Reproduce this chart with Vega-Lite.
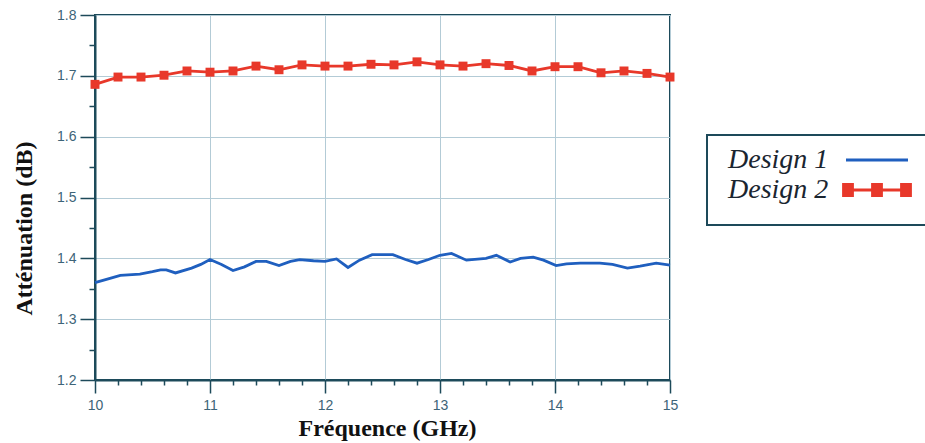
{
  "$schema": "https://vega.github.io/schema/vega-lite/v6.json",
  "autosize": {"type": "none"},
  "width": 575,
  "height": 365,
  "padding": {"left": 95, "top": 15, "right": 255, "bottom": 63},
  "background": "white",
  "config": {
    "view": {"stroke": "#1d4a5a", "strokeWidth": 2},
    "axis": {
      "domainColor": "#1d4a5a",
      "domainWidth": 2,
      "tickColor": "#1d4a5a",
      "tickWidth": 1.5,
      "gridColor": "#b3cbd6",
      "gridWidth": 1,
      "labelFont": "Liberation Sans",
      "labelFontSize": 14,
      "labelColor": "#3d6478",
      "titleFont": "Liberation Serif",
      "titleFontWeight": "bold",
      "titleFontSize": 24,
      "titleColor": "#111111"
    }
  },
  "data": {
    "values": [
      {"f": 10.0, "a": 1.360, "design": "Design 1"},
      {"f": 10.13, "a": 1.367, "design": "Design 1"},
      {"f": 10.22, "a": 1.372, "design": "Design 1"},
      {"f": 10.39, "a": 1.374, "design": "Design 1"},
      {"f": 10.5, "a": 1.378, "design": "Design 1"},
      {"f": 10.57, "a": 1.381, "design": "Design 1"},
      {"f": 10.62, "a": 1.381, "design": "Design 1"},
      {"f": 10.70, "a": 1.376, "design": "Design 1"},
      {"f": 10.84, "a": 1.384, "design": "Design 1"},
      {"f": 10.92, "a": 1.390, "design": "Design 1"},
      {"f": 11.0, "a": 1.398, "design": "Design 1"},
      {"f": 11.1, "a": 1.390, "design": "Design 1"},
      {"f": 11.2, "a": 1.380, "design": "Design 1"},
      {"f": 11.3, "a": 1.386, "design": "Design 1"},
      {"f": 11.4, "a": 1.395, "design": "Design 1"},
      {"f": 11.49, "a": 1.395, "design": "Design 1"},
      {"f": 11.6, "a": 1.388, "design": "Design 1"},
      {"f": 11.7, "a": 1.395, "design": "Design 1"},
      {"f": 11.78, "a": 1.398, "design": "Design 1"},
      {"f": 11.9, "a": 1.396, "design": "Design 1"},
      {"f": 12.0, "a": 1.395, "design": "Design 1"},
      {"f": 12.1, "a": 1.399, "design": "Design 1"},
      {"f": 12.2, "a": 1.385, "design": "Design 1"},
      {"f": 12.3, "a": 1.397, "design": "Design 1"},
      {"f": 12.41, "a": 1.406, "design": "Design 1"},
      {"f": 12.59, "a": 1.406, "design": "Design 1"},
      {"f": 12.7, "a": 1.398, "design": "Design 1"},
      {"f": 12.8, "a": 1.392, "design": "Design 1"},
      {"f": 12.9, "a": 1.398, "design": "Design 1"},
      {"f": 13.0, "a": 1.405, "design": "Design 1"},
      {"f": 13.1, "a": 1.408, "design": "Design 1"},
      {"f": 13.23, "a": 1.397, "design": "Design 1"},
      {"f": 13.4, "a": 1.400, "design": "Design 1"},
      {"f": 13.49, "a": 1.405, "design": "Design 1"},
      {"f": 13.61, "a": 1.394, "design": "Design 1"},
      {"f": 13.7, "a": 1.400, "design": "Design 1"},
      {"f": 13.81, "a": 1.402, "design": "Design 1"},
      {"f": 13.9, "a": 1.397, "design": "Design 1"},
      {"f": 14.01, "a": 1.388, "design": "Design 1"},
      {"f": 14.1, "a": 1.391, "design": "Design 1"},
      {"f": 14.22, "a": 1.392, "design": "Design 1"},
      {"f": 14.39, "a": 1.392, "design": "Design 1"},
      {"f": 14.5, "a": 1.390, "design": "Design 1"},
      {"f": 14.63, "a": 1.384, "design": "Design 1"},
      {"f": 14.74, "a": 1.387, "design": "Design 1"},
      {"f": 14.88, "a": 1.392, "design": "Design 1"},
      {"f": 15.0, "a": 1.389, "design": "Design 1"},
      {"f": 10.0, "a": 1.686, "design": "Design 2"},
      {"f": 10.2, "a": 1.698, "design": "Design 2"},
      {"f": 10.4, "a": 1.698, "design": "Design 2"},
      {"f": 10.6, "a": 1.701, "design": "Design 2"},
      {"f": 10.8, "a": 1.708, "design": "Design 2"},
      {"f": 11.0, "a": 1.706, "design": "Design 2"},
      {"f": 11.2, "a": 1.708, "design": "Design 2"},
      {"f": 11.4, "a": 1.716, "design": "Design 2"},
      {"f": 11.6, "a": 1.710, "design": "Design 2"},
      {"f": 11.8, "a": 1.718, "design": "Design 2"},
      {"f": 12.0, "a": 1.716, "design": "Design 2"},
      {"f": 12.2, "a": 1.716, "design": "Design 2"},
      {"f": 12.4, "a": 1.719, "design": "Design 2"},
      {"f": 12.6, "a": 1.718, "design": "Design 2"},
      {"f": 12.8, "a": 1.723, "design": "Design 2"},
      {"f": 13.0, "a": 1.718, "design": "Design 2"},
      {"f": 13.2, "a": 1.716, "design": "Design 2"},
      {"f": 13.4, "a": 1.720, "design": "Design 2"},
      {"f": 13.6, "a": 1.717, "design": "Design 2"},
      {"f": 13.8, "a": 1.708, "design": "Design 2"},
      {"f": 14.0, "a": 1.715, "design": "Design 2"},
      {"f": 14.2, "a": 1.715, "design": "Design 2"},
      {"f": 14.4, "a": 1.705, "design": "Design 2"},
      {"f": 14.6, "a": 1.708, "design": "Design 2"},
      {"f": 14.8, "a": 1.704, "design": "Design 2"},
      {"f": 15.0, "a": 1.698, "design": "Design 2"}
    ]
  },
  "encoding": {
    "x": {
      "field": "f",
      "type": "quantitative",
      "scale": {"domain": [10, 15], "nice": false, "zero": false},
      "axis": {
        "title": "Fréquence (GHz)",
        "values": [10, 10.2, 10.4, 10.6, 10.8, 11, 11.2, 11.4, 11.6, 11.8, 12, 12.2, 12.4, 12.6, 12.8, 13, 13.2, 13.4, 13.6, 13.8, 14, 14.2, 14.4, 14.6, 14.8, 15],
        "labelExpr": "abs(datum.value - round(datum.value)) < 0.001 ? format(datum.value, 'd') : ''",
        "tickSize": {"condition": {"test": "abs(datum.value - round(datum.value)) < 0.001", "value": 13}, "value": 5},
        "gridOpacity": {"condition": {"test": "abs(datum.value - round(datum.value)) < 0.001", "value": 1}, "value": 0},
        "labelPadding": 5,
        "labelFlush": false,
        "labelOverlap": false,
        "titleX": 292,
        "titleY": 55,
        "titleBaseline": "alphabetic",
        "titleAnchor": "middle",
        "titleAlign": "center"
      }
    },
    "y": {
      "field": "a",
      "type": "quantitative",
      "scale": {"domain": [1.2, 1.8], "nice": false, "zero": false},
      "axis": {
        "title": "Atténuation (dB)",
        "values": [1.2, 1.25, 1.3, 1.35, 1.4, 1.45, 1.5, 1.55, 1.6, 1.65, 1.7, 1.75, 1.8],
        "labelExpr": "abs(datum.value * 10 - round(datum.value * 10)) < 0.001 ? format(datum.value, '.1f') : ''",
        "tickSize": {"condition": {"test": "abs(datum.value * 10 - round(datum.value * 10)) < 0.001", "value": 15}, "value": 6},
        "gridOpacity": {"condition": {"test": "abs(datum.value * 10 - round(datum.value * 10)) < 0.001", "value": 1}, "value": 0},
        "labelPadding": 4,
        "labelFlush": false,
        "labelOverlap": false,
        "titleX": -64,
        "titleY": 213,
        "titleAngle": -90,
        "titleBaseline": "alphabetic",
        "titleAlign": "center",
        "titleAnchor": "middle"
      }
    }
  },
  "layer": [
    {
      "mark": {"type": "line", "strokeWidth": 2.8},
      "encoding": {
        "color": {
          "field": "design",
          "type": "nominal",
          "scale": {"domain": ["Design 1", "Design 2"], "range": ["#1f5fbf", "#e8382a"]},
          "legend": {
            "title": " ",
            "titleOrient": "bottom",
            "titleFontSize": 8,
            "titlePadding": 2,
            "orient": "none",
            "legendX": 612,
            "legendY": 120,
            "padding": 11,
            "strokeColor": "#1d4a5a",
            "fillColor": "white",
            "labelFont": "Liberation Serif",
            "labelFontStyle": "italic",
            "labelFontSize": 28,
            "labelColor": "#1a2530",
            "labelLimit": 300,
            "rowPadding": 2,
            "symbolSize": 400,
            "symbolStrokeWidth": 2.8,
            "encode": {
              "legend": {"update": {"strokeWidth": {"value": 2}}},
              "labels": {"update": {"x": {"value": 10}, "align": {"value": "left"}}},
              "symbols": {
                "update": {
                  "x": {"value": 159},
                  "shape": {"signal": "datum.index == 1 ? 'M-3.1,0H3.1M-3.35,-0.55h0.9v1.1h-0.9zM-0.45,-0.55h0.9v1.1h-0.9zM2.45,-0.55h0.9v1.1h-0.9z' : 'M-3.1,0H3.1'"},
                  "fill": {"signal": "datum.index == 1 ? '#e8382a' : 'transparent'"}
                }
              }
            }
          }
        }
      }
    },
    {
      "transform": [{"filter": {"field": "design", "equal": "Design 2"}}],
      "mark": {"type": "point", "shape": "square", "filled": true, "size": 80, "color": "#e8382a", "opacity": 1}
    }
  ]
}
